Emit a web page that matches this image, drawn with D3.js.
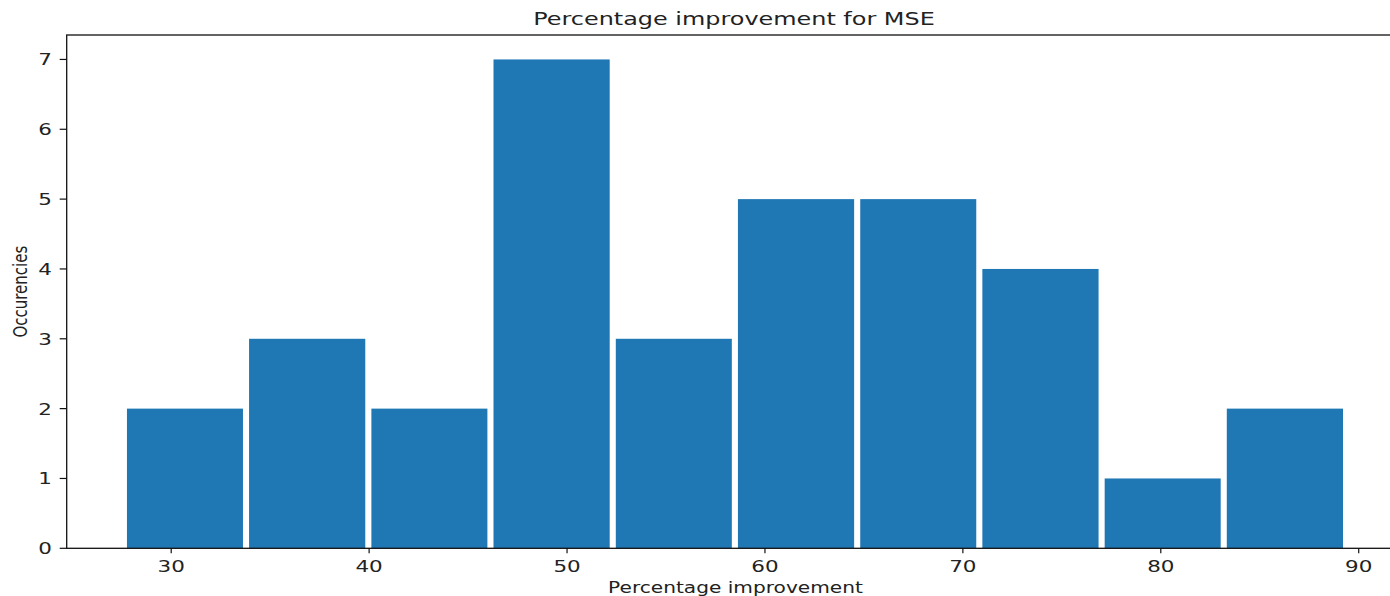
<!DOCTYPE html>
<html>
<head>
<meta charset="utf-8">
<script src="https://cdn.jsdelivr.net/npm/d3@7"></script>
<style>
  html, body { margin: 0; padding: 0; background: #fff; }
  svg { display: block; }
  text { font-family: "DejaVu Sans", sans-serif; fill: #222; }
</style>
</head>
<body>
<svg id="chart" width="1390" height="596"></svg>
<script>
// Histogram of percentage improvement for MSE
const binEdges = [27.61, 33.78, 39.96, 46.13, 52.31, 58.48, 64.66, 70.83, 77.01, 83.18, 89.36];
const counts   = [2, 3, 2, 7, 3, 5, 5, 4, 1, 2];
const xTicks   = [30, 40, 50, 60, 70, 80, 90];
const yTicks   = [0, 1, 2, 3, 4, 5, 6, 7];

const titleText = "Percentage improvement for MSE";
const xLabel = "Percentage improvement";
const yLabel = "Occurencies";

const W = 1390, H = 596;
const plot = { left: 66.7, right: 1408, top: 35, bottom: 548.3 };
const stretch = 1.3;        // glyphs are drawn wider than tall
const rwidth = 0.95;        // bar width relative to bin width
const barColor = "#1f77b4";

const svg = d3.select("#chart");

const x = d3.scaleLinear().domain([24.72, 92.49]).range([plot.left, plot.right]);
const y = d3.scaleLinear().domain([0, 7.35]).range([plot.bottom, plot.top]);

// bars
const bins = counts.map((c, i) => ({ x0: binEdges[i], x1: binEdges[i + 1], count: c }));
svg.append("g")
  .selectAll("rect")
  .data(bins)
  .join("rect")
  .attr("x", d => {
    const w = x(d.x1) - x(d.x0);
    return x(d.x0) + w * (1 - rwidth) / 2;
  })
  .attr("width", d => (x(d.x1) - x(d.x0)) * rwidth)
  .attr("y", d => y(d.count))
  .attr("height", d => y(0) - y(d.count))
  .attr("fill", barColor);

// frame (left, top, bottom visible; right edge falls outside the canvas)
svg.append("rect")
  .attr("x", plot.left).attr("y", plot.top)
  .attr("width", plot.right - plot.left)
  .attr("height", plot.bottom - plot.top)
  .attr("fill", "none")
  .attr("stroke", "#111")
  .attr("stroke-width", 1.3);

// x ticks
const gx = svg.append("g");
gx.selectAll("line")
  .data(xTicks)
  .join("line")
  .attr("x1", d => x(d)).attr("x2", d => x(d))
  .attr("y1", plot.bottom).attr("y2", plot.bottom + 5)
  .attr("stroke", "#111").attr("stroke-width", 1.2);
gx.selectAll("text")
  .data(xTicks)
  .join("text")
  .attr("transform", d => `translate(${x(d)},${571.8}) scale(${stretch},1)`)
  .attr("text-anchor", "middle")
  .style("font-size", "16.5px")
  .text(d => d);

// y ticks
const gy = svg.append("g");
gy.selectAll("line")
  .data(yTicks)
  .join("line")
  .attr("x1", plot.left - 7).attr("x2", plot.left)
  .attr("y1", d => y(d)).attr("y2", d => y(d))
  .attr("stroke", "#111").attr("stroke-width", 1.2);
gy.selectAll("text")
  .data(yTicks)
  .join("text")
  .attr("transform", d => `translate(${52},${y(d) + 6}) scale(${stretch},1)`)
  .attr("text-anchor", "end")
  .style("font-size", "16.5px")
  .text(d => d);

// title
svg.append("text")
  .attr("transform", `translate(${734},${25.3}) scale(${stretch},1)`)
  .attr("text-anchor", "middle")
  .style("font-size", "18.4px")
  .text(titleText);

// x axis label
svg.append("text")
  .attr("transform", `translate(${735.5},${593.3}) scale(${stretch},1)`)
  .attr("text-anchor", "middle")
  .style("font-size", "15.5px")
  .text(xLabel);

// y axis label
svg.append("text")
  .attr("transform", `translate(${26.5},${(plot.top + plot.bottom) / 2}) scale(${stretch},1) rotate(-90)`)
  .attr("text-anchor", "middle")
  .style("font-size", "15px")
  .text(yLabel);
</script>
</body>
</html>
